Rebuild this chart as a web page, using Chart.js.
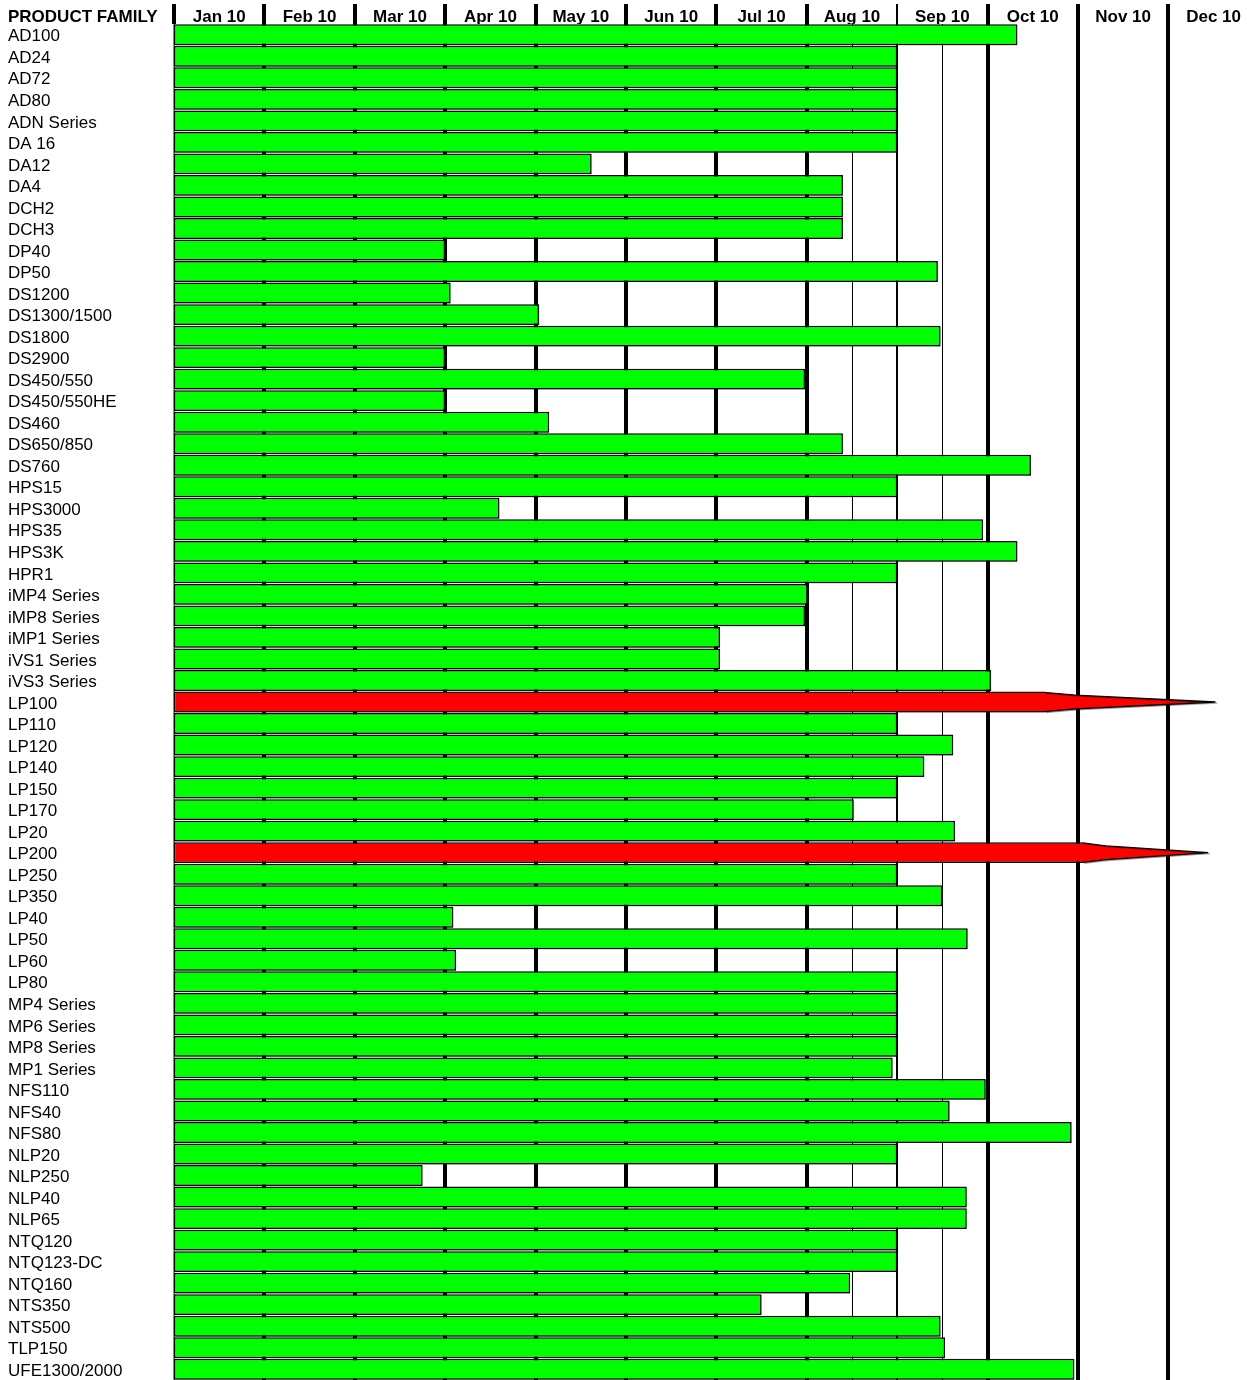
<!DOCTYPE html>
<html>
<head>
<meta charset="utf-8">
<script src="https://cdn.jsdelivr.net/npm/chart.js@4.4.0/dist/chart.umd.min.js"></script>
<style>
  html, body { margin: 0; padding: 0; background: #fff; }
  #wrap { width: 1247px; height: 1380px; }
</style>
</head>
<body>
<div id="wrap"><canvas id="gantt" width="1247" height="1380"></canvas></div>
<script>
const productFamilies = [
  'AD100', 'AD24', 'AD72', 'AD80', 'ADN Series', 'DA 16', 'DA12', 'DA4', 'DCH2', 'DCH3',
  'DP40', 'DP50', 'DS1200', 'DS1300/1500', 'DS1800', 'DS2900', 'DS450/550', 'DS450/550HE', 'DS460', 'DS650/850',
  'DS760', 'HPS15', 'HPS3000', 'HPS35', 'HPS3K', 'HPR1', 'iMP4 Series', 'iMP8 Series', 'iMP1 Series', 'iVS1 Series',
  'iVS3 Series', 'LP100', 'LP110', 'LP120', 'LP140', 'LP150', 'LP170', 'LP20', 'LP200', 'LP250',
  'LP350', 'LP40', 'LP50', 'LP60', 'LP80', 'MP4 Series', 'MP6 Series', 'MP8 Series', 'MP1 Series', 'NFS110',
  'NFS40', 'NFS80', 'NLP20', 'NLP250', 'NLP40', 'NLP65', 'NTQ120', 'NTQ123-DC', 'NTQ160', 'NTS350',
  'NTS500', 'TLP150', 'UFE1300/2000'
];

const monthLabels = ['Jan 10', 'Feb 10', 'Mar 10', 'Apr 10', 'May 10', 'Jun 10',
                     'Jul 10', 'Aug 10', 'Sep 10', 'Oct 10', 'Nov 10', 'Dec 10'];

// months since 1 Jan 2010 where each bar stops
const barEnds = [
  9.33, 8.0, 8.0, 8.0, 8.0, 8.0, 4.62, 7.40, 7.40, 7.40,
  3.0, 8.45, 3.06, 4.04, 8.48, 3.0, 6.98, 3.0, 4.15, 7.40,
  9.48, 8.0, 3.60, 8.95, 9.33, 8.0, 7.01, 6.98, 6.04, 6.04,
  9.04, 9.63, 8.0, 8.62, 8.30, 8.0, 7.52, 8.64, 10.06, 8.0,
  8.50, 3.09, 8.78, 3.12, 8.0, 8.0, 8.0, 8.0, 7.95, 8.98,
  8.58, 9.93, 8.0, 2.75, 8.77, 8.77, 8.0, 8.0, 7.48, 6.50,
  8.48, 8.53, 9.96
];

// rows drawn as red arrows, and where their points end
const arrowRows = ['LP100', 'LP200'];
const arrowTips = [11.52, 11.44];

// thin guide lines half way through Aug and Sep
const midMonthLines = [7.5, 8.5];

const FONT = '"Liberation Sans", Arial, Helvetica, sans-serif';

const ganttLines = {
  id: 'ganttLines',
  beforeDatasetsDraw(chart) {
    const { ctx, chartArea: { top, bottom }, scales: { x } } = chart;
    ctx.save();
    ctx.strokeStyle = '#000';
    monthLabels.forEach((m, k) => {
      const px = Math.round(x.getPixelForValue(k));
      ctx.lineWidth = k === 8 ? 2 : 4;
      ctx.beginPath();
      ctx.moveTo(px, 4);
      ctx.lineTo(px, k === 0 ? top : bottom);
      ctx.stroke();
    });
    ctx.lineWidth = 1;
    midMonthLines.forEach(v => {
      const px = Math.round(x.getPixelForValue(v)) + 0.5;
      ctx.beginPath();
      ctx.moveTo(px, top);
      ctx.lineTo(px, bottom);
      ctx.stroke();
    });
    ctx.font = 'bold 17px ' + FONT;
    ctx.fillStyle = '#000';
    ctx.textBaseline = 'alphabetic';
    ctx.fillText('PRODUCT FAMILY', 8, 22);
    ctx.restore();

    // drop shadow for the bars
    ctx.save();
    ctx.shadowColor = 'rgba(0,0,0,0.3)';
    ctx.shadowOffsetX = 2;
    ctx.shadowOffsetY = 1;
    ctx.shadowBlur = 0;
  },
  afterDatasetsDraw(chart) {
    const { ctx, scales: { x } } = chart;
    const meta = chart.getDatasetMeta(0);
    arrowRows.forEach((name, n) => {
      const i = productFamilies.indexOf(name);
      const bar = meta.data[i];
      const half = bar.height / 2;
      const tip = x.getPixelForValue(arrowTips[n]);
      const bend = bar.x + (tip - bar.x) * 0.18;
      ctx.beginPath();
      ctx.moveTo(bar.x - 1, bar.y - half + 0.75);
      ctx.lineTo(bend, bar.y - half * 0.66);
      ctx.lineTo(tip, bar.y);
      ctx.lineTo(bend, bar.y + half * 0.66);
      ctx.lineTo(bar.x - 1, bar.y + half - 0.75);
      ctx.fillStyle = '#FF0000';
      ctx.fill();
      ctx.strokeStyle = '#000';
      ctx.lineWidth = 1.3;
      ctx.stroke();
    });
    ctx.restore();
  }
};

const isArrow = c => arrowRows.includes(productFamilies[c.dataIndex]);

new Chart(document.getElementById('gantt'), {
  type: 'bar',
  data: {
    labels: productFamilies,
    datasets: [{
      data: barEnds,
      backgroundColor: c => isArrow(c) ? '#FF0000' : '#00FF00',
      borderColor: '#000',
      borderWidth: 1.5,
      borderSkipped: c => isArrow(c) ? 'end' : false,
      barPercentage: 0.97,
      categoryPercentage: 1
    }]
  },
  options: {
    indexAxis: 'y',
    responsive: false,
    animation: false,
    devicePixelRatio: 1,
    layout: { padding: { left: 8, top: 1, right: 0, bottom: 0 } },
    plugins: {
      legend: { display: false },
      tooltip: { enabled: false }
    },
    scales: {
      x: {
        type: 'linear',
        position: 'top',
        min: 0,
        max: 11.87,
        grid: { display: false, drawTicks: false },
        border: { display: false },
        afterBuildTicks(axis) {
          axis.ticks = monthLabels.map((m, i) => ({ value: i + 0.5 }));
        },
        ticks: {
          autoSkip: false,
          maxRotation: 0,
          padding: -2,
          color: '#000',
          font: { family: FONT, size: 17, weight: 'bold', lineHeight: 1 },
          callback: (v, i) => monthLabels[i]
        },
        afterFit(axis) {
          axis.height = 23;
          axis.paddingLeft = 0;
          axis.paddingRight = 0;
        }
      },
      y: {
        type: 'category',
        grid: { display: false, drawTicks: false },
        border: { display: true, color: '#888', width: 2 },
        ticks: {
          autoSkip: false,
          crossAlign: 'far',
          padding: 0,
          labelOffset: 2,
          color: '#000',
          font: { family: FONT, size: 17 }
        },
        afterFit(axis) {
          axis.width = 166;
          axis.paddingTop = 0;
          axis.paddingBottom = 0;
        }
      }
    }
  },
  plugins: [ganttLines]
});
</script>
</body>
</html>
